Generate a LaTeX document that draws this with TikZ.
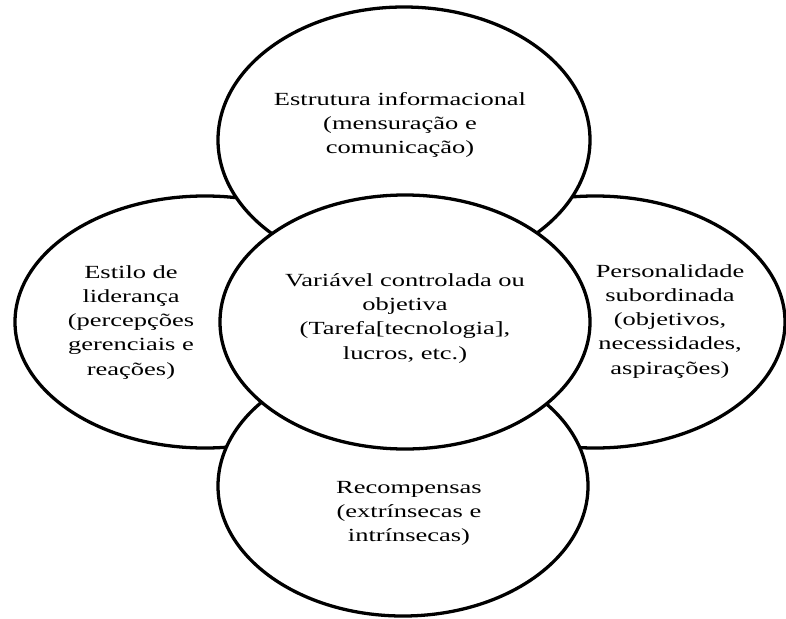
\documentclass[tikz,border=0pt]{standalone}
\usepackage{fontspec}
\usepackage{graphicx}
\setmainfont{Liberation Serif}
\usetikzlibrary{shapes.geometric}
% horizontally widened block of centred lines
\newcommand\widelines[1]{\scalebox{1.43}[1]{\begin{tabular}{@{}c@{}}#1\end{tabular}}}
\begin{document}
\begin{tikzpicture}[x=0.03cm,y=-0.03cm,
  blob/.style={ellipse, draw=black, fill=white, line width=2.8pt,
               inner sep=0pt, outer sep=0pt},
  caption/.style={inner sep=0pt, font=\fontsize{15.8}{20.6}\selectfont}]
\useasboundingbox (0,0) rectangle (786,619);

% outer ellipses, back to front
\node[blob, minimum width=11.4cm, minimum height=7.56cm] (left)  at (205,322) {};
\node[blob, minimum width=11.4cm, minimum height=7.56cm] (right) at (595,322) {};
\node[blob, minimum width=11.16cm, minimum height=7.98cm] (top)  at (404,140) {};
\node[blob, minimum width=11.1cm, minimum height=7.8cm] (bottom) at (403,486) {};
% central ellipse on top of everything
\node[blob, minimum width=11.1cm, minimum height=7.62cm] (core)  at (405,322) {};

% labels
\node[caption] (ttop) at (400,125)
  {\widelines{Estrutura informacional\\(mensuração e\\comunicação)}};
\node[caption] (tleft) at (131,322)
  {\widelines{Estilo de\\liderança\\(percepções\\gerenciais e\\reações)}};
\node[caption] (tcore) at (405,318)
  {\widelines{Variável controlada ou\\objetiva\\(Tarefa[tecnologia],\\lucros, etc.)}};
\node[caption] (tright) at (670,321)
  {\widelines{Personalidade\\subordinada\\(objetivos,\\necessidades,\\aspirações)}};
\node[caption] (tbottom) at (409,513)
  {\widelines{Recompensas\\(extrínsecas e\\intrínsecas)}};
\end{tikzpicture}
\end{document}
